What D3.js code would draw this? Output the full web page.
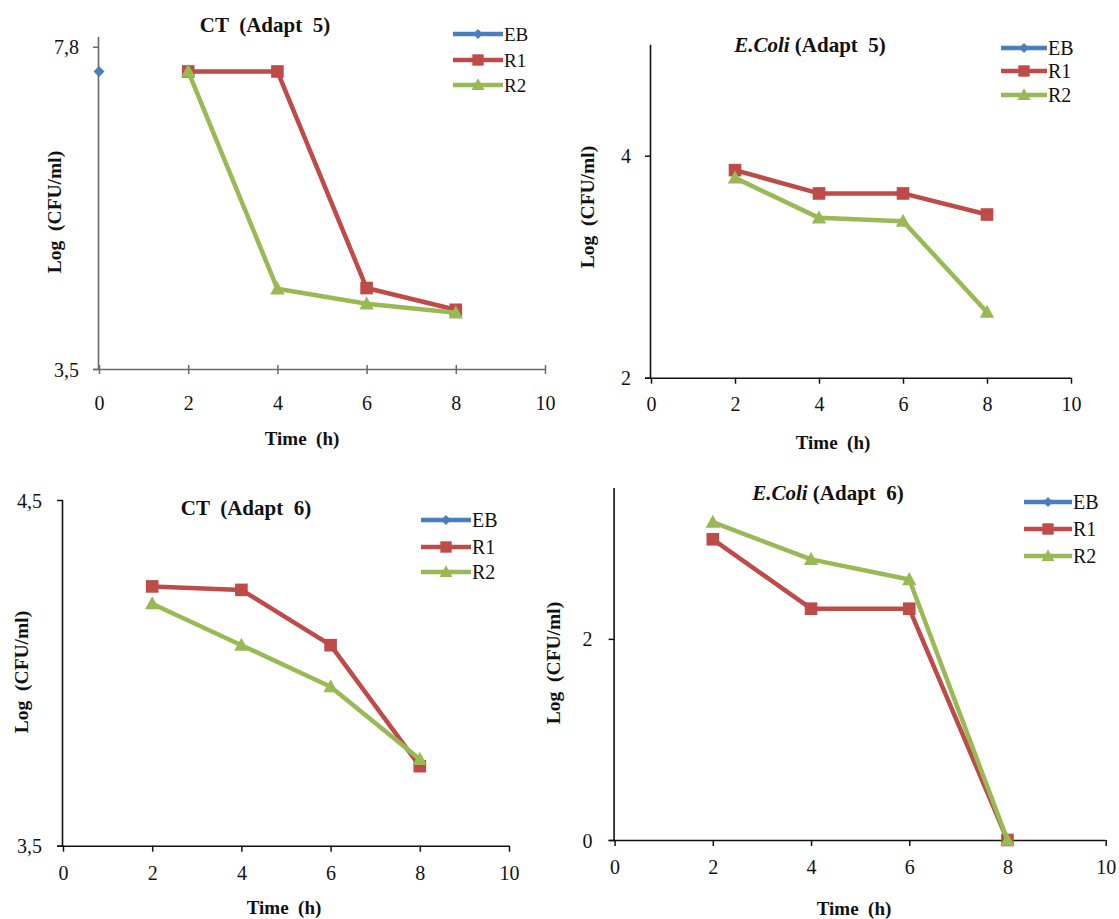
<!DOCTYPE html>
<html>
<head>
<meta charset="utf-8">
<script src="https://cdn.jsdelivr.net/npm/d3@7"></script>
<style>
  html, body { margin: 0; padding: 0; background: #fff; }
  svg { display: block; }
  text { font-family: "Liberation Serif", "Times New Roman", serif; fill: #111; }
</style>
</head>
<body>
<svg id="chart" width="1119" height="919"></svg>
<script>
// ---------------- data ----------------
const hours = [0, 2, 4, 6, 8];
const xTickValues = [0, 2, 4, 6, 8, 10];
const seriesNames = ["EB", "R1", "R2"];

// CT (Adapt 5)
const ct5_EB = [7.47, null, null, null, null];
const ct5_R1 = [null, 7.47, 7.47, 4.58, 4.29];
const ct5_R2 = [null, 7.47, 4.57, 4.37, 4.25];
const ct5_yTicks = [3.5, 7.8];

// E.Coli (Adapt 5)
const ec5_EB = [null, null, null, null, null];
const ec5_R1 = [null, 3.87, 3.66, 3.66, 3.47];
const ec5_R2 = [null, 3.80, 3.44, 3.41, 2.59];
const ec5_yTicks = [2, 4];

// CT (Adapt 6)
const ct6_EB = [null, null, null, null, null];
const ct6_R1 = [null, 4.25, 4.24, 4.08, 3.73];
const ct6_R2 = [null, 4.20, 4.08, 3.96, 3.75];
const ct6_yTicks = [3.5, 4.5];

// E.Coli (Adapt 6)
const ec6_EB = [null, null, null, null, null];
const ec6_R1 = [null, 2.99, 2.30, 2.30, 0];
const ec6_R2 = [null, 3.16, 2.79, 2.59, 0];
const ec6_yTicks = [0, 2];

// ---------------- styles ----------------
const colors = { EB: "#4A7EBB", R1: "#BE4B48", R2: "#98B954" };
const fmt = v => String(v).replace(".", ",");

const panels = [
  { titleItalic: "", titleRest: "CT  (Adapt  5)", series: [ct5_EB, ct5_R1, ct5_R2], yTicks: ct5_yTicks,
    yDomain: [3.5, 7.93], xRange: [99, 545], yRange: [369, 37], axisColor: "#6a6a6a",
    title: [265, 25], legendX: [453, 503], legendY: [34, 60, 85], legendFont: 19,
    yLabel: [54, 212], xLabel: [302, 438], xTickOff: 34, yTickOff: 20, crossTicks: true },
  { titleItalic: "E.Coli", titleRest: " (Adapt  5)", series: [ec5_EB, ec5_R1, ec5_R2], yTicks: ec5_yTicks,
    yDomain: [2, 5], xRange: [651, 1071], yRange: [377.7, 44.7], axisColor: "#111",
    title: [810, 45], legendX: [1001, 1047], legendY: [48, 71, 95], legendFont: 20,
    yLabel: [587, 207], xLabel: [833, 442], xTickOff: 26, yTickOff: 20, crossTicks: false },
  { titleItalic: "", titleRest: "CT  (Adapt  6)", series: [ct6_EB, ct6_R1, ct6_R2], yTicks: ct6_yTicks,
    yDomain: [3.5, 4.5], xRange: [63, 509], yRange: [845.7, 500], axisColor: "#111",
    title: [246, 508], legendX: [421, 471], legendY: [520, 547, 572], legendFont: 20,
    yLabel: [21, 672], xLabel: [284, 907], xTickOff: 27, yTickOff: 21, crossTicks: false },
  { titleItalic: "E.Coli", titleRest: " (Adapt  6)", series: [ec6_EB, ec6_R1, ec6_R2], yTicks: ec6_yTicks,
    yDomain: [0, 3.5], xRange: [614.6, 1105.7], yRange: [840, 488], axisColor: "#111",
    title: [828, 493], legendX: [1024, 1072], legendY: [502, 529, 556], legendFont: 20,
    yLabel: [553, 663], xLabel: [854, 908], xTickOff: 27, yTickOff: 22, crossTicks: false }
];

const svg = d3.select("#chart");

function marker(g, name, x, y, scale) {
  const s = scale || 1;
  if (name === "EB") {
    const r = 5.5 * s;
    g.append("path").attr("d", `M${x},${y - r}L${x + r},${y}L${x},${y + r}L${x - r},${y}Z`)
      .attr("fill", colors.EB);
  } else if (name === "R1") {
    const h = 6.3 * s;
    g.append("rect").attr("x", x - h).attr("y", y - h).attr("width", 2 * h).attr("height", 2 * h)
      .attr("fill", colors.R1);
  } else {
    const w = 7.2 * s, h = 12.5 * s;
    g.append("path").attr("d", `M${x},${y - h * 0.6}L${x + w},${y + h * 0.45}L${x - w},${y + h * 0.45}Z`)
      .attr("fill", colors.R2);
  }
}

panels.forEach(p => {
  const g = svg.append("g");
  const x = d3.scaleLinear().domain([0, 10]).range(p.xRange);
  const y = d3.scaleLinear().domain(p.yDomain).range(p.yRange);

  // x axis
  const xAxis = g.append("g").attr("transform", `translate(0,${p.yRange[0]})`)
    .call(d3.axisBottom(x).tickValues(xTickValues).tickSizeOuter(0).tickSize(p.crossTicks ? 5 : 6).tickFormat(d3.format("d")));
  if (p.crossTicks) xAxis.selectAll(".tick line").attr("y1", -4);
  xAxis.select(".domain").attr("stroke", p.axisColor).attr("stroke-width", 1.6)
    .attr("d", `M${p.xRange[0] - 6},0.5H${p.xRange[1]}`);
  xAxis.selectAll(".tick line").attr("stroke", p.axisColor).attr("stroke-width", 1.5);
  xAxis.selectAll(".tick text").attr("y", p.xTickOff).attr("dy", "0.35em")
    .style("font-size", "20px").style("font-family", '"Liberation Serif", serif').attr("fill", "#222");

  // y axis
  const yAxis = g.append("g").attr("transform", `translate(${p.xRange[0]},0)`)
    .call(d3.axisLeft(y).tickValues(p.yTicks).tickSizeOuter(0).tickSize(6).tickFormat(fmt));
  yAxis.select(".domain").attr("stroke", p.axisColor).attr("stroke-width", 1.6)
    .attr("d", `M-0.5,${p.yRange[1]}V${p.yRange[0]}`);
  yAxis.selectAll(".tick line").attr("stroke", p.axisColor).attr("stroke-width", 1.5);
  yAxis.selectAll(".tick text").attr("x", -p.yTickOff).attr("dy", "0.35em")
    .style("font-size", "20px").style("font-family", '"Liberation Serif", serif').attr("fill", "#222");

  // lines + markers
  p.series.forEach((vals, si) => {
    const name = seriesNames[si];
    const pts = hours.map((h, i) => [h, vals[i]]).filter(d => d[1] !== null);
    if (pts.length === 0) return;
    const line = d3.line().x(d => x(d[0])).y(d => y(d[1]));
    if (pts.length > 1) {
      g.append("path").datum(pts).attr("d", line).attr("fill", "none")
        .attr("stroke", colors[name]).attr("stroke-width", 4.5).attr("stroke-linejoin", "round");
    }
    pts.forEach(d => marker(g, name, x(d[0]), y(d[1]), 1));
  });

  // title
  const t = g.append("text").attr("x", p.title[0]).attr("y", p.title[1]).attr("dy", "0.35em")
    .attr("text-anchor", "middle").style("font-size", "21px").style("font-weight", "bold")
    .style("white-space", "pre");
  if (p.titleItalic) t.append("tspan").style("font-style", "italic").text(p.titleItalic);
  t.append("tspan").text(p.titleRest);

  // axis labels
  g.append("text").attr("x", p.xLabel[0]).attr("y", p.xLabel[1]).attr("dy", "0.35em")
    .attr("text-anchor", "middle").style("font-size", "19px").style("font-weight", "bold")
    .style("white-space", "pre").text("Time  (h)");
  g.append("text").attr("transform", `translate(${p.yLabel[0]},${p.yLabel[1]}) rotate(-90)`)
    .attr("dy", "0.35em").attr("text-anchor", "middle").style("font-size", "19.5px")
    .style("font-weight", "bold").style("white-space", "pre").text("Log  (CFU/ml)");

  // legend
  seriesNames.forEach((name, i) => {
    const ly = p.legendY[i];
    g.append("line").attr("x1", p.legendX[0]).attr("x2", p.legendX[1]).attr("y1", ly).attr("y2", ly)
      .attr("stroke", colors[name]).attr("stroke-width", 4.5);
    marker(g, name, (p.legendX[0] + p.legendX[1]) / 2, ly, 0.9);
    g.append("text").attr("x", p.legendX[1] + 1).attr("y", ly).attr("dy", "0.35em")
      .style("font-size", p.legendFont + "px").attr("fill", "#222").text(name);
  });
});
</script>
</body>
</html>
